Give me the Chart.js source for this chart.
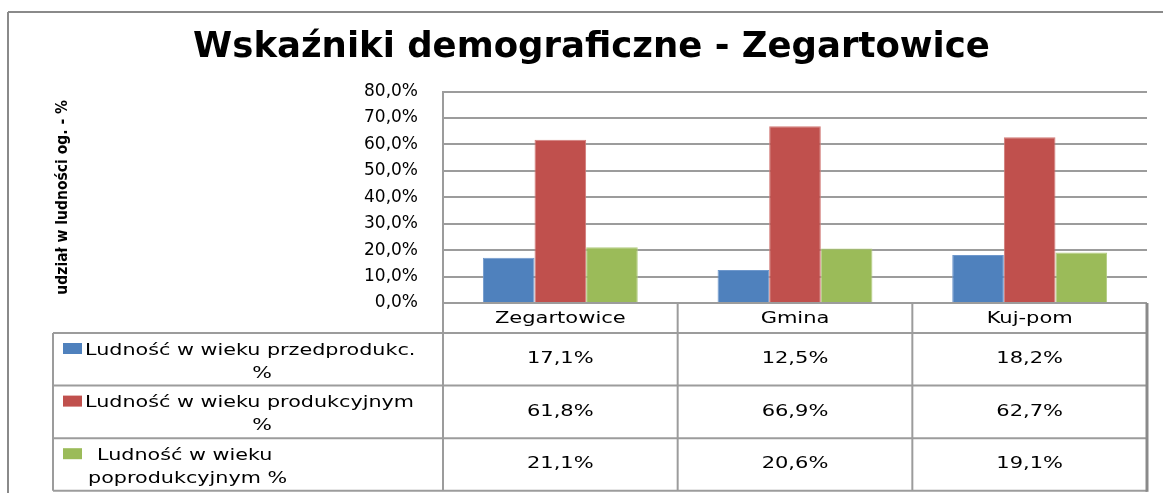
<!DOCTYPE html>
<html>
<head>
<meta charset="utf-8">
<script src="https://cdn.jsdelivr.net/npm/chart.js@4.4.0/dist/chart.umd.min.js"></script>
<style>
html,body{margin:0;padding:0;background:#fff;}
#wrap{position:relative;width:1163px;height:493px;}
</style>
</head>
<body>
<div id="wrap"><canvas id="c" width="1163" height="493"></canvas></div>
<script>
// ---- data ----
const categories = ['Zegartowice', 'Gmina', 'Kuj-pom'];
const seriesNames = ['Ludność w wieku przedprodukc. %', 'Ludność w wieku produkcyjnym %', 'Ludność w wieku poprodukcyjnym %'];
const legendLines = [['Ludność w wieku przedprodukc.', '%'], ['Ludność w wieku produkcyjnym', '%'], ['Ludność w wieku', 'poprodukcyjnym %']];
const przedprodukcyjny = [17.1, 12.5, 18.2];
const produkcyjny = [61.8, 66.9, 62.7];
const poprodukcyjny = [21.1, 20.6, 19.1];
const yTicks = [0, 10, 20, 30, 40, 50, 60, 70, 80];
const chartTitle = 'Wskaźniki demograficzne - Zegartowice';
const yTitle = 'udział w ludności og. - %';

// ---- styles ----
const colors = ['#4F81BD', '#C0504D', '#9BBB59'];
const borders = ['#6f98cc', '#d27a77', '#b2cc80'];
const gridColor = '#9c9c9c';

function fmt(v) { return Number(v).toFixed(1).replace('.', ',') + '%'; }

function stretchText(ctx, txt, x, y, align, sx) {
  ctx.save();
  ctx.translate(x, y);
  ctx.scale(sx, 1);
  ctx.textAlign = align;
  ctx.fillText(txt, 0, 0);
  ctx.restore();
}

function hline(ctx, x1, x2, y) { ctx.beginPath(); ctx.moveTo(x1, y); ctx.lineTo(x2, y); ctx.stroke(); }
function vline(ctx, x, y1, y2) { ctx.beginPath(); ctx.moveTo(x, y1); ctx.lineTo(x, y2); ctx.stroke(); }

const framePlugin = {
  id: 'frame',
  beforeDraw(chart) {
    const ctx = chart.ctx;
    ctx.save();
    ctx.fillStyle = '#fff';
    ctx.fillRect(0, 0, chart.width, chart.height);
    ctx.strokeStyle = '#8a8a8a';
    ctx.lineWidth = 2;
    hline(ctx, 8, chart.width, 12);
    vline(ctx, 8, 12, chart.height);
    ctx.restore();
  }
};

const tablePlugin = {
  id: 'dataTable',
  afterDraw(chart) {
    const ctx = chart.ctx, ca = chart.chartArea, xs = chart.scales.x;
    const headerH = 30, rowH = 52.6, legendLeft = 53, sx = 1.4, sxLeg = 1.38;
    const top = ca.bottom;
    const yHead = top + headerH;
    const bottom = yHead + rowH * chart.data.datasets.length;
    const colW = (ca.right - ca.left) / categories.length;
    ctx.save();
    ctx.strokeStyle = gridColor;
    ctx.lineWidth = 2;
    hline(ctx, ca.left, ca.right, top);
    for (let r = 0; r <= chart.data.datasets.length; r++) {
      hline(ctx, legendLeft, ca.right, yHead + r * rowH);
    }
    vline(ctx, legendLeft, yHead, bottom);
    for (let i = 0; i < categories.length; i++) {
      vline(ctx, ca.left + i * colW, top, bottom);
    }
    ctx.strokeStyle = '#8a8a8a';
    ctx.lineWidth = 3;
    vline(ctx, ca.right, top, bottom + 1);

    ctx.fillStyle = '#000';
    ctx.font = '15px "DejaVu Sans"';
    ctx.textBaseline = 'middle';
    categories.forEach((c, i) => {
      stretchText(ctx, c, xs.getPixelForValue(i), top + headerH / 2 + 1, 'center', sx);
    });
    chart.data.datasets.forEach((ds, r) => {
      const rt = yHead + r * rowH;
      ds.data.forEach((v, i) => {
        stretchText(ctx, fmt(v), xs.getPixelForValue(i), rt + rowH / 2, 'center', sx);
      });
      ctx.fillStyle = ds.backgroundColor;
      ctx.fillRect(63, rt + 10, 19, 11);
      ctx.fillStyle = '#000';
      const lines = legendLines[r];
      if (r < 2) {
        stretchText(ctx, lines[0], 85, rt + 18, 'left', sxLeg);
        stretchText(ctx, lines[1], 262, rt + 41, 'center', sxLeg);
      } else {
        stretchText(ctx, lines[0], 97, rt + 18, 'left', sxLeg);
        stretchText(ctx, lines[1], 88, rt + 41, 'left', sxLeg);
      }
    });
    ctx.restore();
  }
};

const seriesData = [przedprodukcyjny, produkcyjny, poprodukcyjny];

new Chart(document.getElementById('c'), {
  type: 'bar',
  data: {
    labels: categories,
    datasets: seriesData.map((d, i) => ({
      label: seriesNames[i],
      data: d,
      backgroundColor: colors[i],
      borderColor: borders[i],
      borderWidth: 1,
      categoryPercentage: 0.66,
      barPercentage: 1
    }))
  },
  options: {
    responsive: false,
    animation: false,
    devicePixelRatio: 1,
    layout: { padding: { left: 36, right: 16, top: 0, bottom: 190 } },
    plugins: {
      legend: { display: false },
      tooltip: { enabled: false },
      title: {
        display: true,
        text: chartTitle,
        color: '#000',
        font: { family: '"DejaVu Sans"', size: 35.5, weight: 'bold', lineHeight: 1.2 },
        padding: { top: 26, bottom: 23 }
      }
    },
    scales: {
      x: { display: false, offset: true },
      y: {
        min: 0,
        max: 80,
        afterFit(s) { s.width = 407; },
        afterBuildTicks(s) { s.ticks = yTicks.map(v => ({ value: v })); },
        ticks: {
          padding: 25,
          color: '#000',
          font: { family: '"DejaVu Sans"', size: 17 },
          callback: v => fmt(v)
        },
        grid: { color: gridColor, lineWidth: 2, drawTicks: false },
        border: { display: true, color: gridColor, width: 2 },
        title: {
          display: true,
          text: yTitle,
          color: '#000',
          font: { family: '"DejaVu Sans Condensed", "DejaVu Sans"', size: 15.5, weight: 'bold', lineHeight: 1.2 },
          padding: { top: 18, bottom: 0 }
        }
      }
    }
  },
  plugins: [framePlugin, tablePlugin]
});
</script>
</body>
</html>
